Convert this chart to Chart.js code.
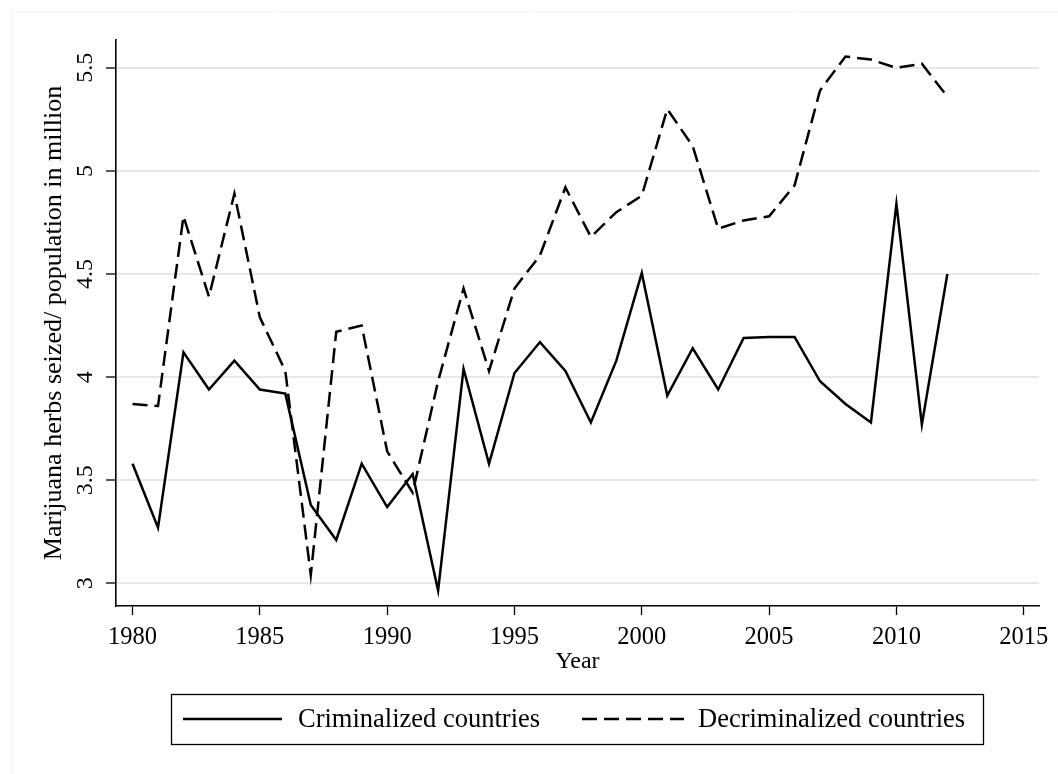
<!DOCTYPE html>
<html>
<head>
<meta charset="utf-8">
<script src="https://cdn.jsdelivr.net/npm/chart.js@4/dist/chart.umd.min.js"></script>
<style>
  html, body { margin: 0; padding: 0; background: #fff; }
  #wrap { width: 1058px; height: 774px; }
</style>
</head>
<body>
<div id="wrap"><canvas id="marijuanaChart" width="1058" height="774"></canvas></div>
<script>
var years = [1980, 1981, 1982, 1983, 1984, 1985, 1986, 1987, 1988, 1989,
  1990, 1991, 1992, 1993, 1994, 1995, 1996, 1997, 1998, 1999,
  2000, 2001, 2002, 2003, 2004, 2005, 2006, 2007, 2008, 2009,
  2010, 2011, 2012];

var criminalized = [3.58, 3.27, 4.12, 3.94, 4.08, 3.94, 3.92, 3.38, 3.21, 3.58,
  3.37, 3.53, 2.965, 4.04, 3.58, 4.02, 4.17, 4.03, 3.78, 4.08,
  4.505, 3.91, 4.14, 3.94, 4.19, 4.195, 4.195, 3.98, 3.87, 3.78,
  4.84, 3.77, 4.50];

var decriminalized = [3.87, 3.86, 4.78, 4.39, 4.89, 4.29, 4.03, 3.04, 4.22, 4.25,
  3.64, 3.44, 3.98, 4.43, 4.03, 4.43, 4.59, 4.92, 4.68, 4.80,
  4.88, 5.30, 5.12, 4.72, 4.76, 4.78, 4.93, 5.39, 5.555, 5.54,
  5.50, 5.52, 5.36];

var seriesNames = ["Criminalized countries", "Decriminalized countries"];
var xTicks = [1980, 1985, 1990, 1995, 2000, 2005, 2010, 2015];
var yTicks = [3, 3.5, 4, 4.5, 5, 5.5];

var serif = "'Liberation Serif', 'Times New Roman', serif";
var dash = [15, 7];

function points(vals) {
  return years.map(function (y, i) { return { x: y, y: vals[i] }; });
}

// y labels in stata are turned sideways, chart.js can't rotate y ticks
var sideLabels = {
  id: "sideLabels",
  afterDraw: function (chart) {
    var ctx = chart.ctx;
    var ys = chart.scales.y;
    ctx.save();
    ctx.fillStyle = "#000";
    ctx.font = "24px " + serif;
    ctx.textAlign = "center";
    ctx.textBaseline = "middle";
    ys.ticks.forEach(function (t) {
      var py = ys.getPixelForValue(t.value);
      ctx.save();
      ctx.translate(86, py);
      ctx.rotate(-Math.PI / 2);
      ctx.fillText(String(t.value), 0, 0);
      ctx.restore();
    });
    ctx.restore();
  }
};

// boxed legend under the plot
var boxLegend = {
  id: "boxLegend",
  afterDraw: function (chart) {
    var ctx = chart.ctx;
    ctx.save();
    // faint outer frame, only top and left show
    ctx.strokeStyle = "#f2f2f2";
    ctx.lineWidth = 1;
    ctx.beginPath();
    ctx.moveTo(11.5, 774);
    ctx.lineTo(11.5, 11.5);
    ctx.lineTo(1058, 11.5);
    ctx.stroke();

    ctx.strokeStyle = "#000";
    ctx.lineWidth = 1.3;
    ctx.strokeRect(171.5, 694.5, 812, 50);

    var cy = 719;
    ctx.lineWidth = 2.5;
    ctx.beginPath();
    ctx.moveTo(183, cy);
    ctx.lineTo(282, cy);
    ctx.stroke();

    ctx.setLineDash(dash);
    ctx.beginPath();
    ctx.moveTo(582, cy);
    ctx.lineTo(684, cy);
    ctx.stroke();
    ctx.setLineDash([]);

    ctx.fillStyle = "#000";
    ctx.font = "26.5px " + serif;
    ctx.textAlign = "left";
    ctx.textBaseline = "middle";
    ctx.fillText(chart.data.datasets[0].label, 298, cy + 1);
    ctx.fillText(chart.data.datasets[1].label, 698, cy + 1);
    ctx.restore();
  }
};

var config = {
  type: "line",
  data: {
    datasets: [
      {
        label: seriesNames[0],
        data: points(criminalized),
        borderColor: "#000",
        borderWidth: 2.5,
        pointRadius: 0,
        tension: 0
      },
      {
        label: seriesNames[1],
        data: points(decriminalized),
        borderColor: "#000",
        borderWidth: 2.5,
        borderDash: dash,
        pointRadius: 0,
        tension: 0
      }
    ]
  },
  options: {
    responsive: false,
    animation: false,
    layout: { padding: { left: 0, right: 19, top: 40, bottom: 88 } },
    plugins: {
      legend: { display: false },
      tooltip: { enabled: false }
    },
    scales: {
      x: {
        type: "linear",
        min: 1979.35,
        max: 2015.6,
        afterBuildTicks: function (s) { s.ticks = xTicks.map(function (v) { return { value: v }; }); },
        afterFit: function (s) { s.height = 80; },
        grid: { display: true, drawOnChartArea: false, drawTicks: true, tickLength: 9, tickColor: "#000", tickWidth: 1.3 },
        border: { display: true, color: "#000", width: 1.6 },
        ticks: {
          color: "#000",
          padding: 8,
          maxRotation: 0,
          font: { family: serif, size: 24.5 },
          callback: function (v) { return String(v); }
        },
        title: {
          display: true,
          text: "Year",
          color: "#000",
          font: { family: serif, size: 24 },
          padding: { top: 0, bottom: 10 }
        }
      },
      y: {
        type: "linear",
        min: 2.89,
        max: 5.635,
        afterBuildTicks: function (s) { s.ticks = yTicks.map(function (v) { return { value: v }; }); },
        afterFit: function (s) { s.width = 116; },
        grid: { color: "#e8e8e8", lineWidth: 2, drawTicks: true, tickLength: 10, tickColor: "#000", tickWidth: 1.3 },
        border: { display: true, color: "#000", width: 1.6 },
        ticks: { display: false },
        title: {
          display: true,
          text: "Marijuana herbs seized/ population in million",
          color: "#000",
          font: { family: serif, size: 26 },
          padding: { top: 39, bottom: 0 }
        }
      }
    }
  },
  plugins: [sideLabels, boxLegend]
};

var myChart = new Chart(document.getElementById("marijuanaChart"), config);
</script>
</body>
</html>
